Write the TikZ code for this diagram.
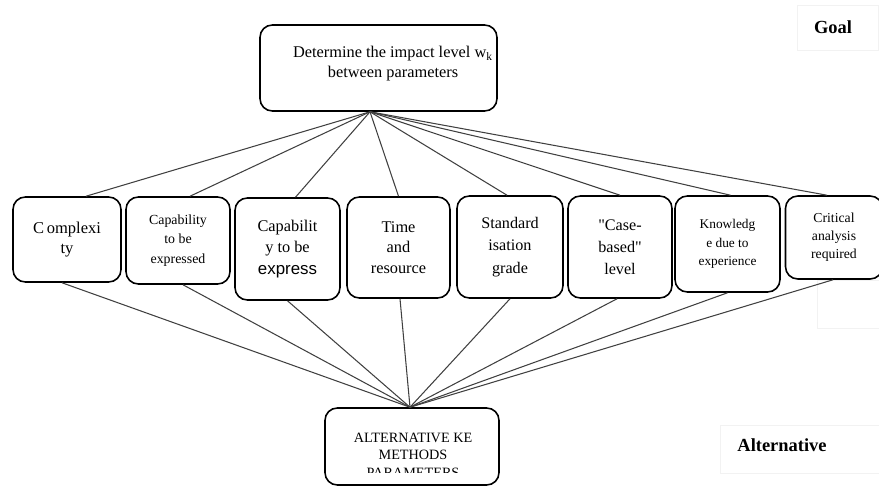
\documentclass[tikz,border=0pt]{standalone}
\usepackage{fontspec}
\setmainfont{Liberation Serif}
\newfontfamily\plainsans{Liberation Sans}
\newfontfamily\rawserif{Liberation Serif}

\begin{document}
\begin{tikzpicture}[x=0.02cm,y=-0.02cm,
	box/.style={draw, line width=0.9pt, rounded corners=7pt, fill=white, align=center, inner sep=1pt},
	link/.style={draw=black!75, line width=0.6pt},
	faint/.style={draw=black!5, line width=0.4pt},
	tag/.style={font=\bfseries\fontsize{10.5}{12}\selectfont}]
	\useasboundingbox (0,0) rectangle (879,487);
	% faint frames of the side labels
	\draw[faint] (797,5) rectangle (878,50);
	\draw[faint] (720,425) rectangle (879,473);
	\draw[faint] (817,280) rectangle (879,328);
	\node[tag] (goallbl) at (833,27) {Goal};
	\node[tag] (altlbl) at (782,445) {Alternative};
	% goal
	\node[box, minimum width=4.74cm, minimum height=1.72cm] (goal) at (378.5,68) {};
	\node[align=center, font=\fontsize{9.3}{11.4}\selectfont] (goaltext) at (393,64) {Determine the impact level w\textsubscript{k}\\between parameters};
	% parameters
	\node[box, minimum width=2.16cm, minimum height=1.70cm, font=\fontsize{9.4}{11}\selectfont] (cplx) at (67,239.5) {C\,omplexi\\ty};
	\node[box, minimum width=2.08cm, minimum height=1.74cm, font=\fontsize{7.9}{11}\selectfont] (capa) at (178,240.5) {Capability\\to be\\expressed};
	\node[box, minimum width=2.10cm, minimum height=2.04cm, font=\fontsize{9.3}{12}\selectfont] (capb) at (287.5,249) {Capabilit\\y to be\\{\plainsans\fontsize{9.6}{12}\selectfont express}};
	\node[box, minimum width=2.06cm, minimum height=2.02cm, font=\fontsize{9.3}{11.6}\selectfont] (time) at (398.5,247.5) {Time\\and\\resource};
	\node[box, minimum width=2.12cm, minimum height=2.04cm, font=\fontsize{9.2}{12.6}\selectfont] (stnd) at (510,247) {Standard\\isation\\grade};
	\node[box, minimum width=2.08cm, minimum height=2.04cm, font=\rawserif\fontsize{9.2}{12.6}\selectfont] (case) at (620,247) {"Case-\\based"\\level};
	\node[box, minimum width=2.10cm, minimum height=1.92cm, font=\fontsize{7.6}{10.5}\selectfont] (know) at (727.5,244) {Knowledg\\e due to\\experience};
	\node[box, minimum width=1.94cm, minimum height=1.66cm, font=\fontsize{7.8}{10.3}\selectfont] (crit) at (834,237.5) {Critical\\analysis\\required};
	% alternatives
	\node[box, minimum width=3.48cm, minimum height=1.54cm] (alt) at (412,446.5) {};
	\begin{scope}
		\clip (330,410) rectangle (495,472);
		\node[align=center, font=\fontsize{8.1}{10}\selectfont] (alttext) at (413,455) {ALTERNATIVE KE\\METHODS\\PARAMETERS};
	\end{scope}
	% connectors
	\coordinate (top) at ([xshift=-0.17cm]goal.south);
	\coordinate (bot) at ([xshift=-0.04cm]alt.north);
	\draw[link] (top) -- ([xshift=0.38cm]cplx.north);
	\draw[link] (top) -- ([xshift=0.24cm]capa.north);
	\draw[link] (top) -- ([xshift=0.16cm]capb.north);
	\draw[link] (top) -- (time.north);
	\draw[link] (top) -- ([xshift=-0.06cm]stnd.north);
	\draw[link] (top) -- (case.north);
	\draw[link] (top) -- ([xshift=0.06cm]know.north);
	\draw[link] (top) -- ([xshift=-0.14cm]crit.north);
	\draw[link] ([xshift=-0.1cm]cplx.south) -- (bot);
	\draw[link] ([xshift=0.1cm]capa.south) -- (bot);
	\draw[link] (capb.south) -- (bot);
	\draw[link] ([xshift=0.03cm]time.south) -- (bot);
	\draw[link] (stnd.south) -- (bot);
	\draw[link] ([xshift=-0.06cm]case.south) -- (bot);
	\draw[link] (know.south) -- (bot);
	\draw[link] ([xshift=-0.02cm]crit.south) -- (bot);
\end{tikzpicture}
\end{document}
